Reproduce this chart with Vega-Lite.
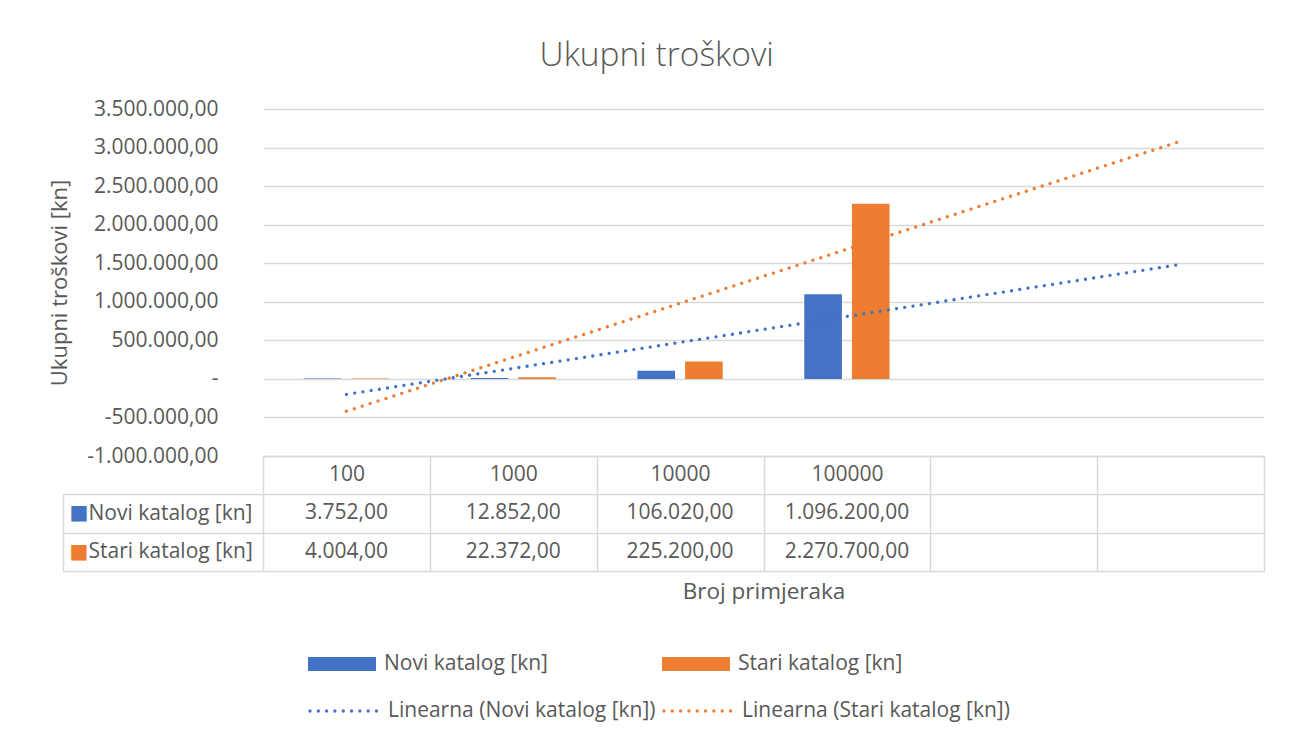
{
  "$schema": "https://vega.github.io/schema/vega-lite/v6.json",
  "background": "white",
  "padding": {"left": 48, "top": 38, "right": 5, "bottom": 5},
  "title": {"text": "Ukupni troškovi", "font": "Open Sans", "fontSize": 33.5, "fontWeight": 300, "color": "#595959", "anchor": "middle", "frame": "bounds", "offset": 25},
  "config": {
    "locale": {"number": {"decimal": ",", "thousands": ".", "grouping": [3], "currency": ["", ""], "minus": "-"}},
    "font": "Open Sans",
    "view": {"stroke": null},
    "axis": {"labelColor": "#595959", "titleColor": "#595959", "labelFont": "Open Sans", "titleFont": "Open Sans", "titleFontWeight": "normal"},
    "legend": {"labelColor": "#595959", "labelFont": "Open Sans", "labelFontSize": 21},
    "concat": {"spacing": 0}
  },
  "datasets": {
    "bars": [
      {"kategorija": "100", "serija": "Novi katalog [kn]", "iznos": 3752},
      {"kategorija": "100", "serija": "Stari katalog [kn]", "iznos": 4004},
      {"kategorija": "1000", "serija": "Novi katalog [kn]", "iznos": 12852},
      {"kategorija": "1000", "serija": "Stari katalog [kn]", "iznos": 22372},
      {"kategorija": "10000", "serija": "Novi katalog [kn]", "iznos": 106020},
      {"kategorija": "10000", "serija": "Stari katalog [kn]", "iznos": 225200},
      {"kategorija": "100000", "serija": "Novi katalog [kn]", "iznos": 1096200},
      {"kategorija": "100000", "serija": "Stari katalog [kn]", "iznos": 2270700}
    ],
    "trend": [
      {"kategorija": "100", "serija": "Linearna (Novi katalog [kn])", "iznos": -200871},
      {"kategorija": "  ", "serija": "Linearna (Novi katalog [kn])", "iznos": 1484385},
      {"kategorija": "100", "serija": "Linearna (Stari katalog [kn])", "iznos": -419868},
      {"kategorija": "  ", "serija": "Linearna (Stari katalog [kn])", "iznos": 3081590}
    ]
  },
  "spacing": -12,
  "vconcat": [
    {
      "width": 1001,
      "height": 347,
      "layer": [
        {
          "data": {"name": "bars"},
          "mark": {"type": "bar"},
          "encoding": {
            "x": {
              "field": "kategorija", "type": "nominal",
              "scale": {"domain": ["100", "1000", "10000", "100000", " ", "  "], "paddingInner": 0, "paddingOuter": 0},
              "axis": {"title": null, "labelAngle": 0, "labelFontSize": 21, "labelBaseline": "middle", "labelPadding": -18.5, "tickBand": "extent", "tickSize": 37, "tickColor": "#d9d9d9", "tickWidth": 1.5, "domainColor": "#d9d9d9", "domainWidth": 1.5, "grid": false}
            },
            "xOffset": {"field": "serija", "type": "nominal", "scale": {"domain": ["Novi katalog [kn]", "Stari katalog [kn]"], "paddingInner": 0.21, "paddingOuter": 0.856}},
            "y": {
              "field": "iznos", "type": "quantitative", "stack": null,
              "scale": {"domain": [-1000000, 3500000], "nice": false, "zero": false},
              "axis": {"title": "Ukupni troškovi [kn]", "titleFontSize": 22, "titlePadding": 15, "values": [-1000000, -500000, 0, 500000, 1000000, 1500000, 2000000, 2500000, 3000000, 3500000], "tickCount": 20, "format": ",.2f", "labelExpr": "datum.value === 0 ? '-\u2007' : datum.label", "labelFontSize": 21, "labelPadding": 45, "labelFlush": false, "labelOverlap": false, "ticks": false, "domain": false, "grid": true, "gridColor": "#d9d9d9", "gridWidth": 1.5}
            },
            "fill": {
              "field": "serija", "type": "nominal",
              "scale": {"domain": ["Novi katalog [kn]", "Stari katalog [kn]"], "range": ["#4472C4", "#ED7D31"]},
              "legend": {"title": null, "orient": "none", "legendX": 45, "legendY": 521, "direction": "horizontal", "columns": 2, "symbolType": "M-1,-0.206H1V0.206H-1Z", "symbolSize": 4624, "symbolStrokeWidth": 0, "labelOffset": 8, "columnPadding": 114, "labelLimit": 400}
            }
          }
        },
        {
          "data": {"name": "trend"},
          "mark": {"type": "line", "strokeDash": [0.01, 8.3], "strokeCap": "round", "strokeWidth": 3.3},
          "encoding": {
            "x": {"field": "kategorija", "type": "nominal", "bandPosition": 0.5},
            "y": {"field": "iznos", "type": "quantitative"},
            "stroke": {
              "field": "serija", "type": "nominal",
              "scale": {"domain": ["Linearna (Novi katalog [kn])", "Linearna (Stari katalog [kn])"], "range": ["#4472C4", "#ED7D31"]},
              "legend": {"title": null, "orient": "none", "legendX": 45, "legendY": 566, "direction": "horizontal", "columns": 2, "symbolType": "stroke", "symbolSize": 4624, "symbolStrokeWidth": 3.3, "symbolDash": [0.01, 8.3], "labelOffset": 8, "columnPadding": 1, "labelLimit": 400, "encode": {"symbols": {"update": {"strokeCap": {"value": "round"}}}}}
            }
          }
        }
      ]
    },
    {
      "width": 1001,
      "height": 77,
      "data": {"name": "bars"},
      "layer": [
        {
          "mark": {"type": "text", "fontSize": 21, "color": "#595959", "font": "Open Sans"},
          "encoding": {
            "x": {
              "field": "kategorija", "type": "nominal", "bandPosition": 0.5,
              "scale": {"domain": ["100", "1000", "10000", "100000", " ", "  "], "paddingInner": 0, "paddingOuter": 0},
              "axis": {"orient": "bottom", "title": "Broj primjeraka", "titleFontSize": 22.5, "titlePadding": 9, "labels": false, "ticks": false, "domain": false, "grid": true, "tickBand": "extent", "gridColor": "#d9d9d9", "gridWidth": 1.5}
            },
            "y": {
              "field": "serija", "type": "nominal", "bandPosition": 0.5,
              "scale": {"domain": ["Novi katalog [kn]", "Stari katalog [kn]"], "paddingInner": 0, "paddingOuter": 0},
              "axis": {"orient": "left", "title": null, "grid": true, "tickBand": "extent", "gridColor": "#d9d9d9", "gridWidth": 1.5, "ticks": true, "tickSize": 200, "tickColor": "#d9d9d9", "tickWidth": 1.5, "domain": false, "labelAlign": "left", "labelPadding": -25, "labelFontSize": 21, "labelLimit": 300}
            },
            "text": {"field": "iznos", "type": "quantitative", "format": ",.2f"}
          }
        },
        {
          "mark": {"type": "text", "text": ""},
          "encoding": {
            "y": {
              "field": "serija", "type": "nominal",
              "axis": {"orient": "left", "offset": 200, "title": null, "grid": false, "ticks": false, "domain": true, "domainColor": "#d9d9d9", "domainWidth": 1.5, "labelExpr": "'■'", "labelFont": "DejaVu Sans", "labelFontSize": 20, "labelAlign": "left", "labelPadding": -6, "labelColor": {"condition": {"test": "datum.value === 'Novi katalog [kn]'", "value": "#4472C4"}, "value": "#ED7D31"}}
            }
          }
        }
      ],
      "resolve": {"axis": {"y": "independent"}}
    }
  ]
}
